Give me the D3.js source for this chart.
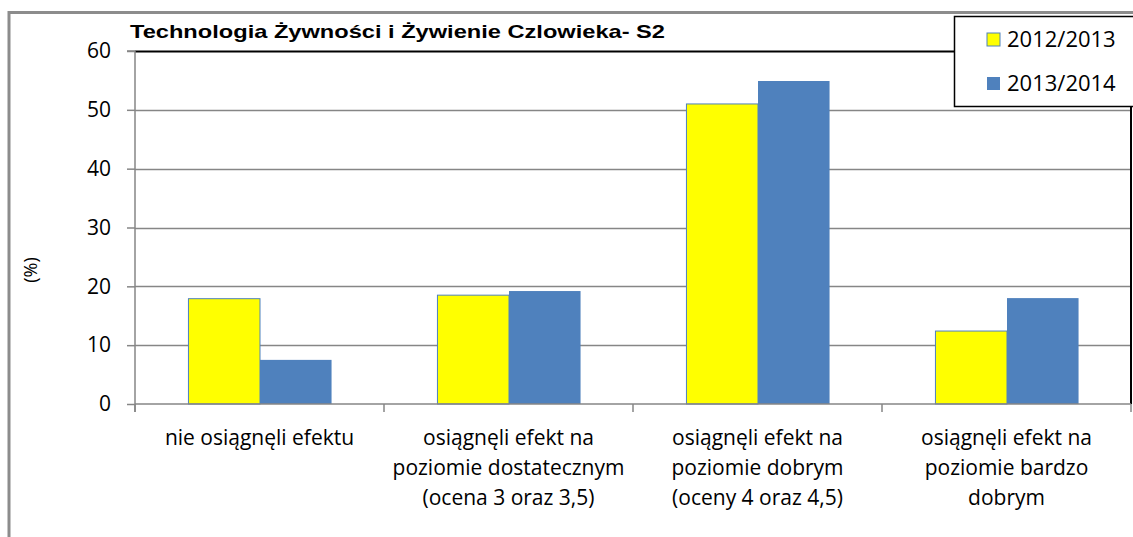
<!DOCTYPE html>
<html>
<head>
<meta charset="utf-8">
<script src="https://cdn.jsdelivr.net/npm/d3@7"></script>
<style>
  body { margin: 0; background: #fff; }
  svg { display: block; }
</style>
</head>
<body>
<svg id="chart" width="1133" height="537"></svg>
<script>
const title = "Technologia Żywności i Żywienie Czlowieka- S2";
const yLabel = "(%)";
const categories = [
  ["nie osiągnęli efektu"],
  ["osiągnęli efekt na", "poziomie dostatecznym", "(ocena 3 oraz 3,5)"],
  ["osiągnęli efekt na", "poziomie dobrym", "(oceny 4 oraz 4,5)"],
  ["osiągnęli efekt na", "poziomie bardzo", "dobrym"]
];
const seriesNames = ["2012/2013", "2013/2014"];
const values2012 = [17.9, 18.5, 51.0, 12.4];
const values2013 = [7.5, 19.2, 54.9, 18.0];
const yTicks = [0, 10, 20, 30, 40, 50, 60];
const colors = ["#FFFF00", "#4F81BD"];

const svg = d3.select("#chart");
const plotL = 135, plotR = 1131, plotT = 51, plotB = 404;

// outer chart frame
svg.append("path")
  .attr("d", `M9,537 V12.5 H1133`)
  .attr("fill", "none")
  .attr("stroke", "#8c8c8c")
  .attr("stroke-width", 3);

const catIdx = categories.map((d, i) => i);
const x = d3.scaleBand().domain(catIdx).range([plotL, plotR]);
const xs = d3.scaleBand().domain(seriesNames).range([0, x.bandwidth()])
  .paddingInner(0).paddingOuter(0.74);
const y = d3.scaleLinear().domain([0, 60]).range([plotB, plotT]);

// gridlines
svg.append("g").selectAll("line")
  .data(yTicks.filter(t => t > 0))
  .join("line")
  .attr("x1", plotL).attr("x2", plotR)
  .attr("y1", d => Math.round(y(d)) + 0.5).attr("y2", d => Math.round(y(d)) + 0.5)
  .attr("stroke", d => d === 60 ? "#000" : "#868686")
  .attr("stroke-width", d => d === 60 ? 2 : 1.5);

// right border of plot
svg.append("line")
  .attr("x1", plotR).attr("x2", plotR)
  .attr("y1", y(60)).attr("y2", y(0))
  .attr("stroke", "#000").attr("stroke-width", 2);

// bars
const data = categories.map((c, i) => ({ i, vals: [values2012[i], values2013[i]] }));
const grp = svg.append("g").selectAll("g")
  .data(data)
  .join("g")
  .attr("transform", d => `translate(${x(d.i)},0)`);

grp.selectAll("rect")
  .data(d => d.vals.map((v, k) => ({ k, v })))
  .join("rect")
  .attr("x", d => xs(seriesNames[d.k]) + 0.5)
  .attr("y", d => y(d.v))
  .attr("width", xs.bandwidth())
  .attr("height", d => y(0) - y(d.v))
  .attr("fill", d => colors[d.k])
  .attr("stroke", d => d.k === 0 ? "#4F81BD" : "none")
  .attr("stroke-width", 1);

// y axis
const yAxis = d3.axisLeft(y).tickValues(yTicks).tickSize(8).tickPadding(16);
const yG = svg.append("g").attr("transform", `translate(${plotL},0)`).call(yAxis);
yG.select(".domain").attr("stroke", "#868686").attr("stroke-width", 1.5)
  .attr("d", `M-8,${y(60)}H0V${y(0) + 8}`);
yG.selectAll(".tick line").attr("stroke", "#868686").attr("stroke-width", 1.5);
yG.selectAll(".tick text")
  .attr("font-family", "Open Sans, sans-serif")
  .attr("font-size", 21)
  .attr("fill", "#000");

// x axis line + ticks at category boundaries
const xG = svg.append("g");
xG.append("line")
  .attr("x1", plotL).attr("x2", plotR)
  .attr("y1", y(0)).attr("y2", y(0))
  .attr("stroke", "#868686").attr("stroke-width", 1.5);
xG.selectAll("line.tk")
  .data(catIdx.concat([categories.length]))
  .join("line")
  .attr("class", "tk")
  .attr("x1", d => d < categories.length ? x(d) : plotR)
  .attr("x2", d => d < categories.length ? x(d) : plotR)
  .attr("y1", y(0)).attr("y2", y(0) + 8)
  .attr("stroke", "#868686").attr("stroke-width", 1.5);

// category labels
const lab = svg.append("g").selectAll("text")
  .data(data)
  .join("text")
  .attr("text-anchor", "middle")
  .attr("font-family", "Open Sans, sans-serif")
  .attr("font-size", 21)
  .attr("fill", "#000");
lab.selectAll("tspan")
  .data(d => categories[d.i].map(s => ({ s, cx: x(d.i) + x.bandwidth() / 2 })))
  .join("tspan")
  .attr("x", d => d.cx)
  .attr("y", (d, k) => 445 + k * 30)
  .text(d => d.s);

// title
svg.append("text")
  .attr("x", 130).attr("y", 38)
  .attr("font-family", "Liberation Sans, Arial, sans-serif")
  .attr("font-weight", "bold")
  .attr("font-size", 19)
  .attr("textLength", 535)
  .attr("lengthAdjust", "spacingAndGlyphs")
  .text(title);

// y label
svg.append("text")
  .attr("transform", "translate(37,270) rotate(-90)")
  .attr("text-anchor", "middle")
  .attr("font-family", "Open Sans, sans-serif")
  .attr("font-size", 18)
  .text(yLabel);

// legend
const lg = svg.append("g");
lg.append("rect")
  .attr("x", 954.5).attr("y", 16.5).attr("width", 180).attr("height", 90)
  .attr("fill", "#fff").attr("stroke", "#000").attr("stroke-width", 1.5);
const li = lg.selectAll("g.item")
  .data(seriesNames)
  .join("g")
  .attr("class", "item")
  .attr("transform", (d, k) => `translate(987,${33 + k * 44})`);
li.append("rect")
  .attr("width", 13).attr("height", 13)
  .attr("fill", (d, k) => colors[k])
  .attr("stroke", (d, k) => k === 0 ? "#4F81BD" : "none");
li.append("text")
  .attr("x", 20).attr("y", 14)
  .attr("font-family", "Open Sans, sans-serif")
  .attr("font-size", 22)
  .text(d => d);
</script>
</body>
</html>
